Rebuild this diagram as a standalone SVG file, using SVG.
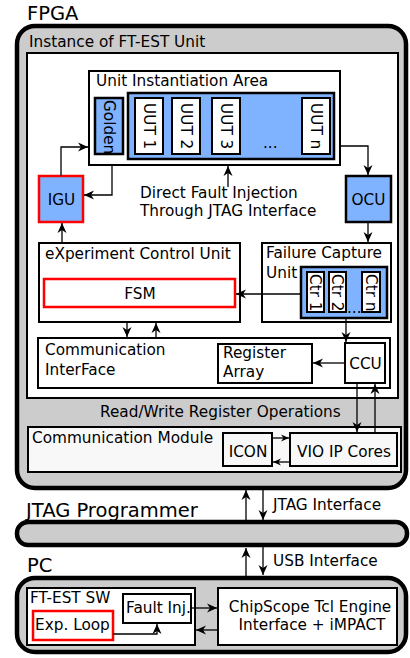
<svg xmlns="http://www.w3.org/2000/svg" width="410" height="658" viewBox="0 0 410 658">
<style>
text{font-family:"DejaVu Sans","Liberation Sans",sans-serif;font-size:15.3px;fill:#000}
.big{font-size:19.5px}
.c{text-anchor:middle}
.box{fill:#fff;stroke:#000;stroke-width:2}
.blue{fill:#80b3ff;stroke:#000;stroke-width:2.5}
.red{fill:#fff;stroke:#f00;stroke-width:2.5}
.lite{fill:#f8f8f8;stroke:#000;stroke-width:2}
.outer{fill:#ccc;stroke:#000;stroke-width:4.5}
.ln{fill:none;stroke:#000;stroke-width:1.3}
.a{marker-end:url(#ah)}
.as{marker-end:url(#ahs)}
</style>
<defs>
<marker id="ah" viewBox="-11 -5 12 10" markerWidth="12" markerHeight="10" refX="0" refY="0" orient="auto" markerUnits="userSpaceOnUse"><path d="M0,0 L-10,-4.5 L-7,0 L-10,4.5 Z" fill="#000"/></marker>
<marker id="ahs" viewBox="-9 -4 10 8" markerWidth="10" markerHeight="8" refX="0" refY="0" orient="auto" markerUnits="userSpaceOnUse"><path d="M0,0 L-8,-3.5 L-5.5,0 L-8,3.5 Z" fill="#000"/></marker>
</defs>

<g id="fpga">
<text class="big" x="27" y="20">FPGA</text>
<rect class="outer" x="17" y="26" width="389" height="462" rx="18"/>
<text x="29" y="47">Instance of FT-EST Unit</text>
<rect class="box" x="27" y="53" width="371" height="345"/>
<text x="100" y="417">Read/Write Register Operations</text>
</g>

<g id="uia">
<rect class="box" x="89" y="71" width="251" height="94"/>
<text x="96" y="86">Unit Instantiation Area</text>
</g>
<g id="golden">
<rect class="blue" x="95" y="98" width="28" height="56" stroke-width="2"/>
<text transform="translate(104,100) rotate(90)">Golden</text>
</g>
<g id="uuts">
<rect class="blue" x="128" y="93" width="206" height="66" stroke-width="3"/>
<rect class="box" x="135" y="98" width="28" height="56" stroke-width="2.5"/>
<text transform="translate(143.5,103) rotate(90)">UUT 1</text>
<rect class="box" x="172" y="98" width="28" height="56" stroke-width="2.5"/>
<text transform="translate(180.5,103) rotate(90)">UUT 2</text>
<rect class="box" x="212" y="98" width="28" height="56" stroke-width="2.5"/>
<text transform="translate(220.5,103) rotate(90)">UUT 3</text>
<text x="263" y="148">...</text>
<rect class="box" x="302" y="98" width="28" height="56" stroke-width="2.5"/>
<text transform="translate(310.5,103) rotate(90)">UUT n</text>
</g>

<g id="igu">
<rect class="blue" x="39" y="176" width="44" height="46" style="stroke:#f00"/>
<text class="c" x="61.5" y="205">IGU</text>
</g>
<g id="ocu">
<rect class="blue" x="346" y="176" width="45" height="46"/>
<text class="c" x="368.5" y="205">OCU</text>
</g>
<g id="dfi">
<text x="140" y="198">Direct Fault Injection</text>
<text x="140" y="216">Through JTAG Interface</text>
</g>

<g id="ecu">
<rect class="box" x="39" y="243" width="201" height="79"/>
<text x="45" y="259">eXperiment Control Unit</text>
<rect class="red" x="44" y="279" width="191" height="28"/>
<text class="c" x="140" y="299">FSM</text>
</g>

<g id="fcu">
<rect class="box" x="262" y="243" width="129" height="79"/>
<text x="266" y="258">Failure Capture</text>
<text x="266" y="278">Unit</text>
<rect class="blue" x="301" y="267" width="86" height="51"/>
<rect class="box" x="307" y="272" width="17" height="40"/>
<text transform="translate(310,274) rotate(90)">Ctr 1</text>
<rect class="box" x="329" y="272" width="17" height="40"/>
<text transform="translate(332,274) rotate(90)">Ctr 2</text>
<text x="347" y="313">...</text>
<rect class="box" x="362" y="272" width="18" height="40"/>
<text transform="translate(365.5,274) rotate(90)">Ctr n</text>
</g>

<g id="cif">
<rect class="box" x="38" y="338" width="352" height="50"/>
<text x="45" y="355">Communication</text>
<text x="45" y="375">InterFace</text>
</g>
<g id="regarray">
<rect class="box" x="218" y="344" width="94" height="39" stroke-width="2.5"/>
<text x="223" y="358">Register</text>
<text x="223" y="377">Array</text>
</g>
<g id="ccu">
<rect class="box" x="345" y="343" width="40" height="40" stroke-width="2.5"/>
<text class="c" x="365.5" y="369">CCU</text>
</g>

<g id="cm">
<rect class="lite" x="28" y="427" width="373" height="45"/>
<text x="32" y="443">Communication Module</text>
<rect class="lite" x="223" y="433" width="49" height="33" stroke-width="1.5"/>
<text class="c" x="248" y="457">ICON</text>
<rect class="lite" x="290" y="433" width="107" height="33" stroke-width="2.5"/>
<text class="c" x="344" y="457">VIO IP Cores</text>
</g>

<g id="jtag">
<text class="big" x="26" y="517">JTAG Programmer</text>
<rect class="outer" x="17" y="522" width="390" height="23" rx="11"/>
<text x="273" y="510">JTAG Interface</text>
<text x="273" y="566">USB Interface</text>
</g>

<g id="pc">
<text class="big" x="27" y="572">PC</text>
<rect class="outer" x="17" y="578" width="389" height="74" rx="18"/>
</g>
<g id="ftestsw">
<rect class="box" x="27" y="588" width="168" height="57"/>
<text x="30" y="603">FT-EST SW</text>
<rect class="box" x="123" y="594" width="68" height="29" stroke-width="2.5"/>
<text x="126" y="613">Fault Inj.</text>
<rect class="red" x="33" y="611" width="80" height="29"/>
<text x="35" y="630">Exp. Loop</text>
</g>
<g id="chipscope">
<rect class="box" x="218" y="588" width="179" height="57"/>
<text class="c" x="310" y="612">ChipScope Tcl Engine</text>
<text class="c" x="312" y="630">Interface + iMPACT</text>
</g>

<g id="connectors">
<path class="ln a" d="M61,176 V147 H88"/>
<path class="ln a" d="M112,165 V195 H84"/>
<path class="ln a" d="M340,146 H368 V175"/>
<path class="ln a" d="M62,243 V223"/>
<path class="ln a" d="M228,187 V166"/>
<path class="ln a" d="M368,222 V242"/>
<path class="ln a" d="M301,294 H236"/>
<path class="ln a" d="M127,322 V337"/>
<path class="ln a" d="M156,338 V323"/>
<path class="ln a" d="M346,318 V342"/>
<path class="ln a" d="M345,363 H313"/>
<path class="ln a" d="M357,383 V432"/>
<path class="ln a" d="M375,433 V384"/>
<path class="ln as" d="M273,438 H289"/>
<path class="ln as" d="M290,462 H273"/>
<path class="ln a" d="M246,522 V490"/>
<path class="ln a" d="M263,488 V520"/>
<path class="ln a" d="M246,577 V548"/>
<path class="ln a" d="M263,546 V575"/>
<path class="ln a" d="M113,634 H157 V624"/>
<path class="ln a" d="M191,608 H217"/>
<path class="ln a" d="M218,630 H196"/>
</g>
</svg>
